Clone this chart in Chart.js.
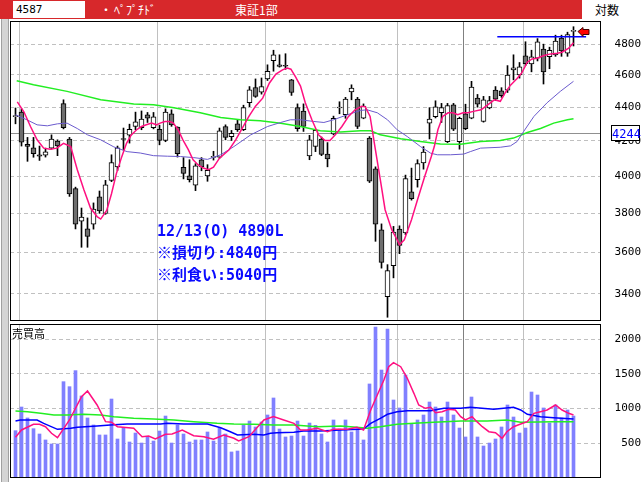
<!DOCTYPE html>
<html>
<head>
<meta charset="utf-8">
<script src="https://cdn.jsdelivr.net/npm/chart.js@4.4.1/dist/chart.umd.min.js"></script>
<style>
  body { margin: 0; width: 641px; height: 482px; background: #fff; position: relative; overflow: hidden; font-family: "Noto Sans CJK JP", sans-serif; }
  .abs { position: absolute; }
  #hdr { left: 0; top: 0; width: 641px; height: 19px; background: #d7282b; color: #fff; font-size: 12px; line-height: 19px; }
  #code { left: 13px; top: 1px; width: 72px; height: 17px; background: #fff; color: #000; font: 11px "DejaVu Sans Mono", monospace; line-height: 17px; padding-left: 3px; box-sizing: border-box; }
  #scale { left: 582px; top: 0; width: 59px; height: 19px; background: #fff; color: #000; }
  #leftbar { left: 1px; top: 19px; width: 6px; height: 463px; background: #d4d4d4; border-left: 1px solid #a0a0a0; border-right: 1px solid #a0a0a0; }
  #memo { left: 157px; top: 220px; color: #0a0aff; font: bold 15px "DejaVu Sans Mono", "Noto Sans CJK JP", monospace; line-height: 22px; white-space: pre; }
  #curBox { left: 611px; top: 125px; width: 29px; height: 16px; border: 1px solid #000; background: #fff; color: #0000ff; font: 12px "DejaVu Sans Mono", monospace; line-height: 16px; text-align: center; box-sizing: border-box; }
  #volLabel { left: 12px; top: 325px; font-size: 11px; color: #000; }
</style>
</head>
<body>
<div id="hdr" class="abs">
  <div id="code" class="abs">4587</div>
  <span class="abs" style="left:100px">・</span>
  <span class="abs" style="left:114px">ﾍﾟﾌﾟﾁﾄﾞ</span>
  <span class="abs" style="left:235px">東証1部</span>
  <div id="scale" class="abs"><span class="abs" style="left:13px">対数</span></div>
</div>
<div id="leftbar" class="abs"></div>
<canvas id="priceChart" class="abs" width="641" height="300" style="left:0;top:21px"></canvas>
<canvas id="volChart" class="abs" width="641" height="154" style="left:0;top:324px"></canvas>
<div id="memo" class="abs">12/13(O) 4890L
※損切り:4840円
※利食い:5040円</div>
<div id="curBox" class="abs">4244</div>
<div id="volLabel" class="abs">売買高</div>

<script>
// Data (one entry per trading day)
const opens = [4343,4370,4180,4160,4120,4118,4158,4198,4422,4210,
  3932,3759,3720,3744,3887,3800,3977,4052,4212,4233,
  4284,4277,4354,4277,4268,4202,4360,4280,4049,4002,
  3951,4092,4002,4105,4107,4284,4225,4300,4265,4428,
  4521,4492,4575,4692,4665,4660,4569,4397,4377,4114,
  4168,4211,4124,4240,4395,4354,4493,4449,4333,4216,
  4041,3715,3387,3535,3718,3698,3914,3981,4074,4304,
  4342,4366,4196,4414,4196,4360,4333,4455,4314,4395,
  4505,4500,4505,4633,4600,4723,4671,4708,4767,4717,
  4730,4840,4740,4885];
const highs = [4395,4390,4220,4220,4170,4158,4235,4206,4445,4220,
  3940,3828,3776,3855,3919,3977,4120,4170,4275,4298,
  4370,4377,4368,4368,4292,4390,4384,4282,4104,4092,
  4070,4104,4064,4140,4275,4294,4261,4324,4412,4527,
  4575,4581,4665,4760,4730,4737,4572,4420,4420,4232,
  4265,4222,4190,4346,4433,4460,4538,4460,4420,4225,
  4052,3745,3540,3732,3735,4006,4045,4092,4167,4397,
  4439,4423,4423,4423,4340,4418,4560,4478,4466,4466,
  4527,4520,4660,4730,4680,4816,4760,4837,4800,4780,
  4860,4860,4880,4917];
const lows = [4300,4170,4083,4106,4088,4107,4152,4115,4270,3890,
  3719,3626,3626,3718,3800,3795,3970,4032,4148,4187,
  4265,4265,4308,4270,4177,4195,4285,4107,3985,3968,
  3921,4030,3972,4090,4100,4206,4202,4255,4260,4403,
  4460,4480,4565,4624,4650,4636,4472,4256,4255,4092,
  4138,4115,4052,4235,4360,4333,4445,4272,4330,3965,
  3656,3523,3292,3476,3594,3690,3870,3940,4039,4211,
  4335,4308,4190,4260,4152,4265,4330,4400,4310,4390,
  4440,4460,4490,4569,4580,4660,4620,4690,4543,4640,
  4720,4720,4720,4788];
const closes = [4347,4193,4168,4126,4112,4137,4210,4171,4277,3903,
  3744,3780,3681,3823,3813,3953,4076,4160,4208,4268,
  4312,4328,4334,4342,4202,4370,4294,4126,4016,3981,
  4058,4052,4032,4108,4259,4220,4244,4265,4397,4507,
  4466,4527,4624,4730,4655,4656,4490,4272,4284,4206,
  4261,4122,4096,4333,4398,4449,4518,4284,4406,3972,
  3744,3551,3511,3703,3635,3987,3878,4070,4135,4328,
  4402,4397,4410,4268,4333,4272,4524,4418,4445,4440,
  4449,4470,4600,4646,4652,4673,4717,4815,4620,4760,
  4820,4756,4864,4890];
const volumes = [682,1023,865,711,634,548,490,490,1388,1316,
  1547,1182,865,764,620,620,1138,562,725,519,
  648,504,591,533,677,893,504,764,634,519,
  548,548,663,533,720,634,375,389,764,821,
  735,807,908,1153,706,591,605,821,605,792,
  759,634,519,836,706,836,663,706,548,1355,
  2176,1556,2147,1124,1009,1484,778,836,908,1095,
  1023,879,1095,908,720,591,1167,591,461,504,
  562,735,1052,879,648,720,1239,1196,1009,792,
  1052,865,980,893];

// moving averages, read as [day, value]
const priceMaShort = [[0.3,4432],[1.4,4372],[2.5,4284],[3.6,4206],[4.7,4158],[5.8,4152],[6.9,4158],[8,4186],[9.2,4167],
  [10.3,4036],[11.4,3926],[12.5,3828],[13.6,3783],[14.2,3770],[15.2,3815],[16,3904],[16.8,4013],[17.7,4108],[18.5,4186],
  [19.3,4235],[20.2,4265],[21,4284],[21.8,4294],[22.7,4304],[23.5,4294],[24.1,4304],[24.9,4314],[25.7,4314],[26.3,4304],
  [27.1,4265],[27.9,4206],[28.8,4149],[29.6,4092],[30.4,4064],[31.3,4045],[32.2,4036],[33,4050],[34,4101],[35.6,4149],
  [36.7,4206],[37.8,4274],[38.9,4344],[40,4406],[41.2,4455],[42.3,4548],[43.4,4606],[44.5,4633],[45.3,4644],[45.9,4637],
  [46.7,4586],[47.5,4530],[48.3,4427],[49.4,4324],[50.5,4235],[51.6,4202],[52.4,4202],[53.3,4235],[54.4,4284],[55.5,4344],
  [56.6,4384],[57.7,4406],[58.3,4402],[59.1,4344],[59.9,4167],[60.8,3981],[61.6,3819],[62.7,3715],[63.6,3664],[64,3639],
  [64.8,3664],[66,3767],[67,3872],[68.2,3998],[69.3,4110],[69.8,4167],[70.4,4265],[71.2,4344],[72.1,4366],[72.9,4366],
  [73.7,4354],[74.6,4366],[75.4,4366],[76.5,4376],[77.6,4384],[78.7,4414],[79.8,4445],[80.8,4436],[81.7,4494],[82.5,4536],
  [83.6,4578],[84.4,4615],[85.3,4682],[86.1,4703],[86.9,4708],[88.1,4725],[89.2,4736],[90.3,4740],[91.1,4747],[92.2,4773],[93,4810]];
const priceMaMid = [[0,4354],[1.9,4324],[3.6,4294],[5.3,4288],[7,4300],[8.6,4304],[10.3,4272],[12,4235],[14.2,4206],
  [16.4,4165],[18.6,4138],[20.8,4130],[23,4115],[25.3,4112],[27.5,4110],[29.7,4104],[32,4094],[34.2,4120],[36.4,4167],
  [39.2,4235],[42,4284],[44.2,4308],[45.8,4324],[47.5,4324],[49.7,4314],[51.4,4308],[53,4324],[55.3,4354],[57.5,4380],
  [58.6,4384],[60.3,4366],[62,4324],[63.6,4265],[65.3,4225],[67.5,4167],[69.2,4129],[70.3,4120],[72.5,4120],[74.7,4124],
  [75.8,4138],[77.5,4158],[80.8,4163],[82.5,4171],[83.6,4196],[84.7,4255],[86.4,4344],[88.6,4427],[90.8,4497],[93,4560]];
const priceMaLong = [[0.2,4563],[3,4538],[8.6,4497],[14.2,4445],[19.7,4420],[23,4414],[26.4,4397],[30.8,4366],[34.2,4338],
  [37.5,4324],[40.8,4318],[44.2,4304],[47.5,4284],[50.8,4259],[54.2,4251],[57.5,4259],[59.2,4259],[60.8,4235],[64.2,4212],
  [67.5,4196],[70.8,4182],[74.2,4180],[77.5,4196],[80.8,4202],[83,4216],[85.3,4249],[87.5,4272],[89.7,4304],[92,4324],[93,4330]];

const volMaShort = [[0,586],[1,692],[3,774],[4,774],[5,739],[6,644],[7,581],[9,836],[11,1172],[12,1254],[13.6,1052],
  [15,812],[16,803],[17,739],[19.7,716],[21.1,595],[22.2,605],[23.3,562],[25,630],[26.1,634],[27.8,692],[29.7,610],
  [31.4,595],[33,558],[34.7,620],[36.4,572],[37.2,533],[38.9,595],[41.4,836],[43,884],[44.7,836],[46.4,788],[47.5,692],
  [48.6,692],[50.3,716],[52,667],[53,701],[55.3,701],[56.9,730],[58,692],[59.2,980],[60.3,1196],[61.4,1412],[62.2,1604],
  [63,1662],[64.2,1604],[65.3,1437],[66.4,1220],[67.2,1052],[68.3,1004],[69.2,1019],[70,941],[71.1,955],[72.2,990],
  [73.3,980],[74.2,884],[75,836],[76.1,884],[76.9,812],[77.8,739],[78.9,667],[80,653],[81.1,572],[81.9,667],[83,739],
  [84.2,778],[85.3,812],[86.4,932],[87.5,955],[88.6,980],[90,1052],[91.1,980],[92.2,932],[93,908]];
const volMaMid = [[0,821],[0.8,836],[3.6,836],[4.7,788],[7,701],[9.2,716],[10.3,730],[13.6,749],[15.8,764],[18.6,778],
  [24.2,778],[25.3,788],[28,778],[32,778],[34.2,725],[35.8,667],[37,620],[39.7,630],[41.4,620],[42.5,644],[43.6,653],
  [46.4,658],[48,677],[50.8,677],[54.2,692],[58,706],[59.2,788],[60.8,860],[62,918],[63.6,955],[65.3,970],[69.2,970],
  [71.4,1004],[74.2,1004],[75.8,1019],[79.7,990],[83,1019],[84.2,980],[85.3,918],[87.5,884],[89.7,869],[93,850]];
const volMaLong = [[0,966],[2,955],[4.2,932],[6.4,908],[8.6,908],[11.4,918],[14.2,908],[16.4,884],[19.7,860],[23,850],
  [26.4,836],[29.7,812],[33.6,788],[36.4,778],[39.7,774],[43,764],[46.4,764],[50.3,739],[54.2,749],[56.9,730],[58.6,716],
  [60.8,739],[63.6,774],[66.4,788],[69.7,803],[74.2,821],[78.6,821],[81.9,836],[84.2,803],[89.7,812],[93,812]];

const priceTicks = [3400, 3600, 3800, 4000, 4200, 4400, 4600, 4800];
const volTicks = [500, 1000, 1500, 2000];
const monthLines = [0.5, 23.5, 41.5, 63.5, 74.5, 84.5];
const yearLine = 74.5;
const refPrice = 4244;
const stopLine = [[80.3, 4850], [95.1, 4850]];

const days = closes.map((c, i) => i);
const toXY = pts => pts.map(p => ({ x: p[0], y: p[1] }));
const tickFont = { family: 'DejaVu Sans Mono', size: 11 };

function maLine(pts, color, width) {
  return { type: 'line', data: toXY(pts), borderColor: color, borderWidth: width,
    pointRadius: 0, tension: 0, fill: false };
}

// separators, reference line, frame and marker
const panelDecor = {
  id: 'panelDecor',
  beforeDatasetsDraw(chart, args, opts) {
    const { ctx, chartArea: a, scales: { x, y } } = chart;
    ctx.save();
    ctx.lineWidth = 1;
    monthLines.forEach(m => {
      const px = Math.round(x.getPixelForValue(m)) + 0.5;
      ctx.strokeStyle = m === yearLine ? '#808080' : '#c0c0c0';
      ctx.beginPath(); ctx.moveTo(px, a.top); ctx.lineTo(px, a.bottom); ctx.stroke();
    });
    if (opts.refPrice) {
      const py = Math.round(y.getPixelForValue(opts.refPrice)) + 0.5;
      ctx.strokeStyle = '#909090';
      ctx.beginPath(); ctx.moveTo(a.left, py); ctx.lineTo(a.right, py); ctx.stroke();
    }
    ctx.restore();
  },
  afterDraw(chart, args, opts) {
    const { ctx, chartArea: a, scales: { x, y } } = chart;
    ctx.save();
    if (opts.arrow) {
      const last = closes.length - 1;
      const ax = Math.round(x.getPixelForValue(last)) + 4;
      const ay = Math.round(y.getPixelForValue(closes[last])) + 0.5;
      ctx.fillStyle = '#ff0000';
      ctx.strokeStyle = '#400000';
      ctx.beginPath();
      ctx.moveTo(ax, ay); ctx.lineTo(ax + 5, ay - 4); ctx.lineTo(ax + 5, ay - 2);
      ctx.lineTo(ax + 11, ay - 2); ctx.lineTo(ax + 11, ay + 3); ctx.lineTo(ax + 5, ay + 3);
      ctx.lineTo(ax + 5, ay + 5); ctx.closePath();
      ctx.fill(); ctx.stroke();
    }
    ctx.strokeStyle = '#000';
    ctx.lineWidth = 1;
    ctx.strokeRect(a.left + 0.5, a.top + 0.5, a.width - 1, a.height - 1);
    ctx.restore();
  }
};

const xAxis = { type: 'linear', display: false, min: -0.9167, max: 97.583, offset: false };

function rightAxis(ticks, extra) {
  return Object.assign({
    position: 'right',
    afterFit(scale) { scale.width = 40; scale.paddingTop = 0; scale.paddingBottom = 0; },
    afterBuildTicks(scale) { scale.ticks = ticks.map(v => ({ value: v })); },
    ticks: { font: tickFont, color: '#000', padding: 12, crossAlign: 'far', callback: v => String(v) },
    grid: { color: '#c0c0c0', drawTicks: false },
    border: { display: false, dash: [4, 3] }
  }, extra);
}

// ローソク足チャート
new Chart(document.getElementById('priceChart'), {
  type: 'bar',
  data: {
    datasets: [
      maLine(priceMaShort, '#ff1080', 1.5),
      maLine(priceMaMid, '#6a5acd', 1),
      maLine(priceMaLong, '#22ee22', 1.5),
      maLine(stopLine, '#0000ff', 1.5),
      {
        data: days.map(i => ({ x: i, y: [opens[i], closes[i]] })),
        backgroundColor: days.map(i => closes[i] >= opens[i] ? '#ffffff' : '#6e6e6e'),
        borderColor: '#000', borderWidth: 1, borderSkipped: false,
        barThickness: 5, grouped: false, minBarLength: 1
      },
      {
        data: days.map(i => ({ x: i, y: [lows[i], highs[i]] })),
        backgroundColor: '#000', borderWidth: 0, barThickness: 1, grouped: false
      }
    ]
  },
  options: {
    responsive: false,
    animation: false,
    layout: { padding: { left: 10, right: 0, top: 0, bottom: 0 } },
    scales: {
      x: xAxis,
      y: rightAxis(priceTicks, { type: 'logarithmic', min: 3275, max: 4956 })
    },
    plugins: {
      legend: { display: false },
      tooltip: { enabled: false },
      panelDecor: { refPrice: refPrice, arrow: true }
    }
  },
  plugins: [panelDecor]
});

// 売買高チャート
new Chart(document.getElementById('volChart'), {
  type: 'bar',
  data: {
    datasets: [
      maLine(volMaShort, '#ff1080', 1.5),
      maLine(volMaMid, '#0000ff', 1.5),
      maLine(volMaLong, '#22ee22', 1.5),
      {
        data: days.map(i => ({ x: i, y: volumes[i] })),
        backgroundColor: '#8080ff', borderWidth: 0, barThickness: 3, grouped: false
      }
    ]
  },
  options: {
    responsive: false,
    animation: false,
    layout: { padding: { left: 10, right: 0, top: 0, bottom: 0 } },
    scales: {
      x: xAxis,
      y: rightAxis(volTicks, { type: 'linear', min: 0, max: 2219 })
    },
    plugins: {
      legend: { display: false },
      tooltip: { enabled: false },
      panelDecor: {}
    }
  },
  plugins: [panelDecor]
});
</script>
</body>
</html>
